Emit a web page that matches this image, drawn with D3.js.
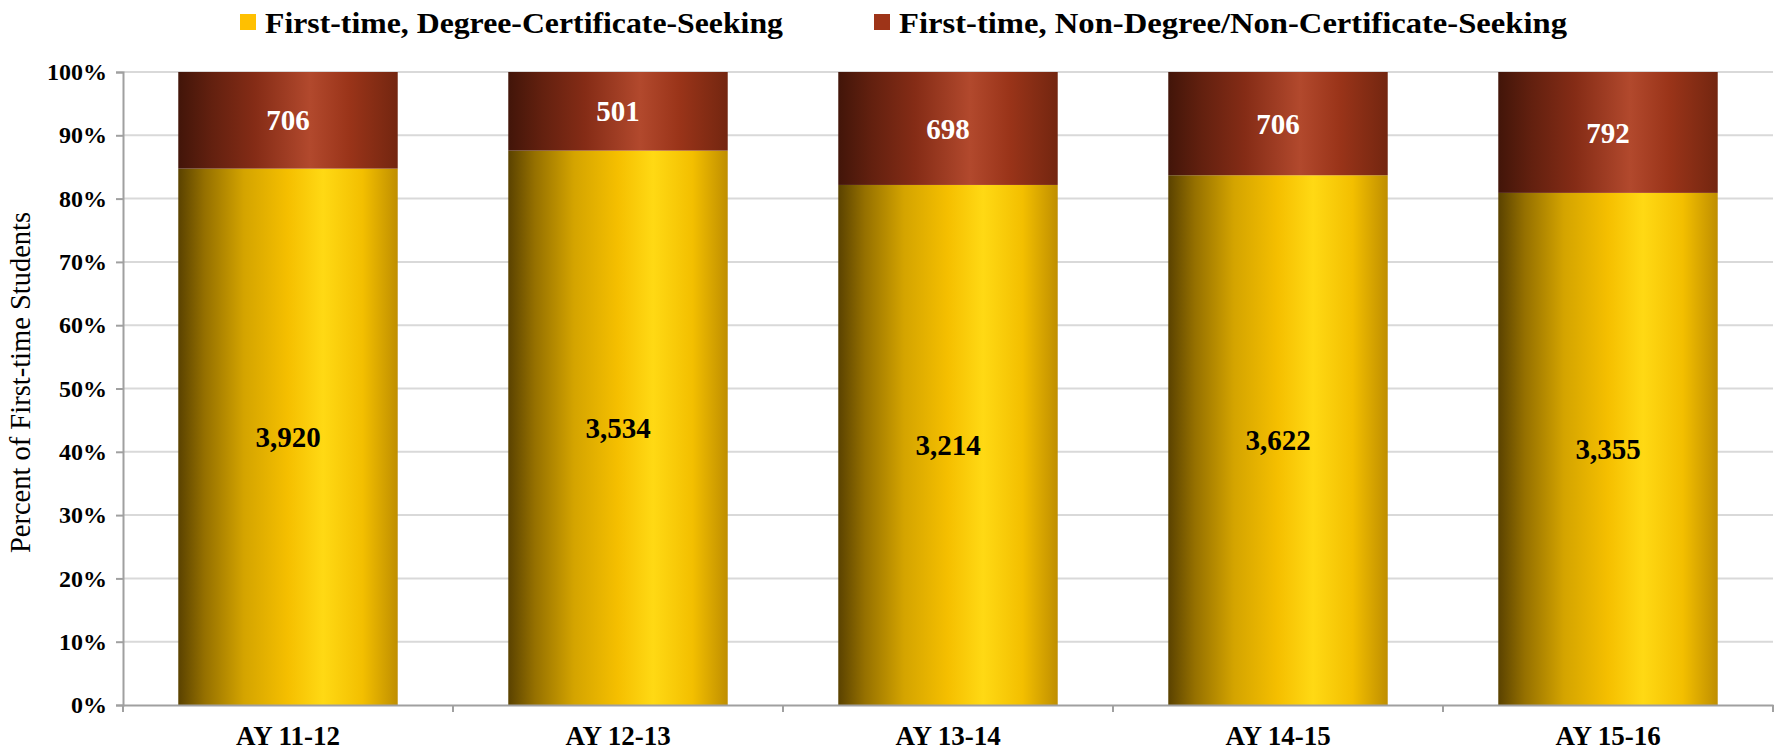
<!DOCTYPE html>
<html>
<head>
<meta charset="utf-8">
<script src="https://cdn.jsdelivr.net/npm/d3@7"></script>
<style>
  body { margin: 0; background: #fff; }
  svg { display: block; font-family: "Liberation Serif", "DejaVu Serif", serif; }
</style>
</head>
<body>
<svg id="chart"></svg>
<script>
// data
let years = ["AY 11-12", "AY 12-13", "AY 13-14", "AY 14-15", "AY 15-16"];
let degreeSeeking = [3920, 3534, 3214, 3622, 3355];
let nonDegreeSeeking = [706, 501, 698, 706, 792];
let seriesNames = ["First-time, Degree-Certificate-Seeking", "First-time, Non-Degree/Non-Certificate-Seeking"];
let yTicks = [0, 0.1, 0.2, 0.3, 0.4, 0.5, 0.6, 0.7, 0.8, 0.9, 1];

let width = 1775, height = 753;
let margin = { top: 72, right: 2, bottom: 48, left: 123 };

let svg = d3.select('#chart').attr("width", width).attr("height", height);

let data = years.map((y, i) => ({ name: y, deg: degreeSeeking[i], non: nonDegreeSeeking[i] }));
let keys = ["deg", "non"];

let x = d3.scaleBand()
    .domain(years)
    .range([margin.left, width - margin.right])
    .paddingInner(0.335)
    .paddingOuter(0.1675);

let y = d3.scaleLinear([0, 1], [height - margin.bottom, margin.top]);

// gradients (cylinder-ish shading)
let defs = svg.append("defs");
let gradStops = {
    deg: [[0, "#5a4200"], [0.12, "#957000"], [0.3, "#d4a400"], [0.5, "#f5bf00"], [0.66, "#ffd914"], [0.84, "#f3bf00"], [1, "#bf8e00"]],
    non: [[0, "#421509"], [0.15, "#62200f"], [0.35, "#852c16"], [0.6, "#b2492d"], [0.78, "#9a3419"], [1, "#732610"]]
};
keys.forEach(k => {
    let g = defs.append("linearGradient").attr("id", "grad-" + k)
        .attr("x1", "0%").attr("x2", "100%").attr("y1", "0%").attr("y2", "0%");
    g.selectAll("stop").data(gradStops[k]).enter().append("stop")
        .attr("offset", d => d[0]).attr("stop-color", d => d[1]);
});

// gridlines
svg.append("g")
    .selectAll("line")
    .data(yTicks.slice(1))
    .enter().append("line")
    .attr("x1", margin.left).attr("x2", width - margin.right)
    .attr("y1", d => y(d)).attr("y2", d => y(d))
    .attr("stroke", "#d9d9d9").attr("stroke-width", 2);

let stacked = d3.stack().keys(keys).offset(d3.stackOffsetExpand)(data);

let layer = svg.append("g")
    .selectAll("g")
    .data(stacked)
    .enter().append("g")
    .attr("fill", d => "url(#grad-" + d.key + ")");

layer.selectAll("rect")
    .data(d => d)
    .enter().append("rect")
    .attr("x", d => x(d.data.name))
    .attr("y", d => y(d[1]))
    .attr("height", d => y(d[0]) - y(d[1]))
    .attr("width", x.bandwidth());

// value labels
layer.selectAll("text")
    .data(d => d.map(v => ({ v: v, key: d.key })))
    .enter().append("text")
    .attr("x", d => x(d.v.data.name) + x.bandwidth() / 2)
    .attr("y", d => (y(d.v[0]) + y(d.v[1])) / 2)
    .attr("dy", "0.35em")
    .attr("text-anchor", "middle")
    .attr("font-weight", "bold")
    .attr("font-size", 29)
    .attr("fill", d => d.key === "non" ? "#fff" : "#000")
    .text(d => d3.format(",")(d.v.data[d.key]));

// y axis
let yAxis = svg.append("g")
    .attr("transform", "translate(" + margin.left + ",0)")
    .call(d3.axisLeft(y).tickValues(yTicks).tickFormat(d3.format(".0%")).tickSize(7).tickPadding(9));
yAxis.select(".domain").attr("stroke", "#a0a0a0").attr("stroke-width", 2);
yAxis.selectAll(".tick line").attr("stroke", "#a0a0a0").attr("stroke-width", 2);
yAxis.selectAll(".tick text")
    .attr("font-family", "Liberation Serif").attr("font-weight", "bold").attr("font-size", 24).attr("fill", "#000");

// x axis
let xAxis = svg.append("g")
    .attr("transform", "translate(0," + y(0) + ")")
    .call(d3.axisBottom(x).tickSize(0).tickPadding(21));
xAxis.select(".domain").attr("stroke", "#a0a0a0").attr("stroke-width", 2);
xAxis.selectAll(".tick text")
    .attr("font-family", "Liberation Serif").attr("font-weight", "bold").attr("font-size", 27).attr("fill", "#000");
// category separators
let step = x.step();
xAxis.append("g")
    .selectAll("line")
    .data(d3.range(years.length + 1))
    .enter().append("line")
    .attr("x1", i => margin.left + i * step).attr("x2", i => margin.left + i * step)
    .attr("y1", 0).attr("y2", 7)
    .attr("stroke", "#a0a0a0").attr("stroke-width", 2);

// y title
svg.append("text")
    .attr("transform", "translate(30," + (y(0.5) - 6) + ") rotate(-90)")
    .attr("text-anchor", "middle")
    .attr("font-size", 28.5)
    .text("Percent of First-time Students");

// legend
let legendX = [240, 874];
let legendWidths = [518, 668];
let legendColors = ["#ffc000", "#9e3418"];
let legend = svg.append("g")
    .selectAll("g")
    .data(seriesNames)
    .enter().append("g")
    .attr("transform", (d, i) => "translate(" + legendX[i] + ",14)");
legend.append("rect")
    .attr("width", 16).attr("height", 16)
    .attr("fill", (d, i) => legendColors[i]);
legend.append("text")
    .attr("x", 25).attr("y", 8)
    .attr("dy", "0.35em")
    .attr("font-weight", "bold")
    .attr("font-size", 30)
    .attr("textLength", (d, i) => legendWidths[i])
    .attr("lengthAdjust", "spacingAndGlyphs")
    .text(d => d);
</script>
</body>
</html>
